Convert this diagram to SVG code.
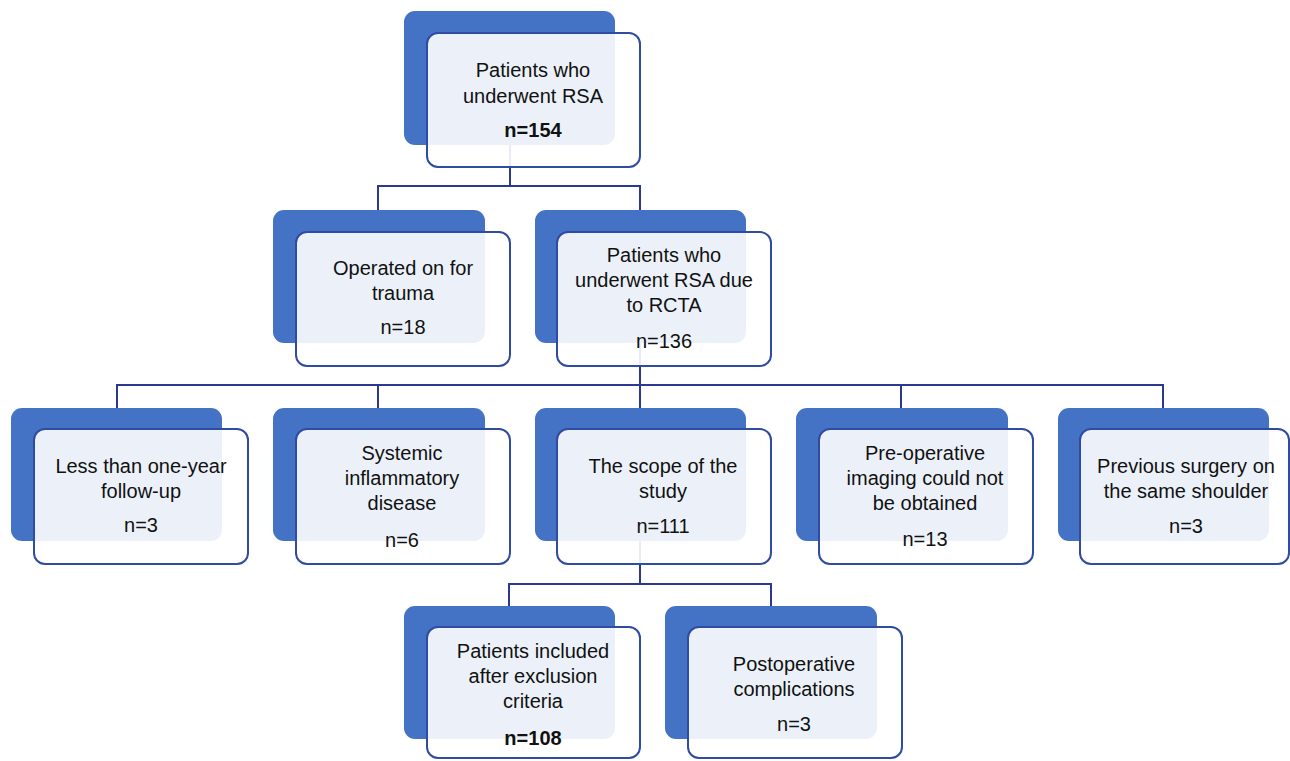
<svg xmlns="http://www.w3.org/2000/svg" width="1290" height="761" viewBox="0 0 1290 761">
<style>
.bk{fill:#4472C4;}
.fr{fill:#ffffff;fill-opacity:0.9;stroke:#2F4BA2;stroke-width:2;}
.t{font-family:"Liberation Sans",Arial,sans-serif;font-size:20px;fill:#111;text-anchor:middle;}
.b{font-weight:bold;}
.c{fill:none;stroke:#2B3A8E;stroke-width:2;}
</style>
<rect width="1290" height="761" fill="#ffffff"/>
<g id="connectors">
<path class="c" d="M510 145 V186 M378 210 V186 H640 V210"/>
<path class="c" d="M640 343 V385 M117 408 V385 H1163 V408 M378 385 V408 M640 385 V408 M901 385 V408"/>
<path class="c" d="M640 541 V584 M509 606 V584 H771 V606"/>
</g>
<g id="n-top">
<rect class="bk" x="404" y="11" width="211" height="134" rx="11"/>
<rect class="fr" x="427" y="33" width="213" height="134" rx="11"/>
<text class="t" x="533" y="77">Patients who</text>
<text class="t" x="533" y="103">underwent RSA</text>
<text class="t b" x="533" y="137">n=154</text>
</g>
<g id="n-trauma">
<rect class="bk" x="273" y="210" width="212" height="133" rx="11"/>
<rect class="fr" x="296" y="232" width="214" height="134" rx="11"/>
<text class="t" x="403" y="275">Operated on for</text>
<text class="t" x="403" y="300">trauma</text>
<text class="t" x="403" y="334">n=18</text>
</g>
<g id="n-rcta">
<rect class="bk" x="535" y="210" width="211" height="133" rx="11"/>
<rect class="fr" x="557" y="232" width="214" height="134" rx="11"/>
<text class="t" x="664" y="262">Patients who</text>
<text class="t" x="664" y="287">underwent RSA due</text>
<text class="t" x="664" y="312">to RCTA</text>
<text class="t" x="664" y="348">n=136</text>
</g>
<g id="n-followup">
<rect class="bk" x="11" y="408" width="211" height="133" rx="11"/>
<rect class="fr" x="34" y="429" width="214" height="135" rx="11"/>
<text class="t" x="141" y="473">Less than one-year</text>
<text class="t" x="141" y="498">follow-up</text>
<text class="t" x="141" y="532">n=3</text>
</g>
<g id="n-systemic">
<rect class="bk" x="273" y="408" width="212" height="133" rx="11"/>
<rect class="fr" x="296" y="429" width="214" height="135" rx="11"/>
<text class="t" x="402" y="460">Systemic</text>
<text class="t" x="402" y="485">inflammatory</text>
<text class="t" x="402" y="510">disease</text>
<text class="t" x="402" y="547">n=6</text>
</g>
<g id="n-scope">
<rect class="bk" x="535" y="408" width="211" height="133" rx="11"/>
<rect class="fr" x="557" y="429" width="214" height="135" rx="11"/>
<text class="t" x="663" y="473">The scope of the</text>
<text class="t" x="663" y="498">study</text>
<text class="t" x="663" y="533">n=111</text>
</g>
<g id="n-imaging">
<rect class="bk" x="796" y="408" width="212" height="133" rx="11"/>
<rect class="fr" x="819" y="429" width="214" height="135" rx="11"/>
<text class="t" x="925" y="460">Pre-operative</text>
<text class="t" x="925" y="485">imaging could not</text>
<text class="t" x="925" y="510">be obtained</text>
<text class="t" x="925" y="546">n=13</text>
</g>
<g id="n-previous">
<rect class="bk" x="1058" y="408" width="211" height="133" rx="11"/>
<rect class="fr" x="1080" y="429" width="209" height="135" rx="11"/>
<text class="t" x="1186" y="473">Previous surgery on</text>
<text class="t" x="1186" y="498">the same shoulder</text>
<text class="t" x="1186" y="533">n=3</text>
</g>
<g id="n-included">
<rect class="bk" x="404" y="606" width="211" height="133" rx="11"/>
<rect class="fr" x="427" y="627" width="213" height="131" rx="11"/>
<text class="t" x="533" y="658">Patients included</text>
<text class="t" x="533" y="683">after exclusion</text>
<text class="t" x="533" y="708">criteria</text>
<text class="t b" x="533" y="745">n=108</text>
</g>
<g id="n-postop">
<rect class="bk" x="665" y="606" width="212" height="133" rx="11"/>
<rect class="fr" x="688" y="627" width="214" height="131" rx="11"/>
<text class="t" x="794" y="671">Postoperative</text>
<text class="t" x="794" y="696">complications</text>
<text class="t" x="794" y="731">n=3</text>
</g>
</svg>
